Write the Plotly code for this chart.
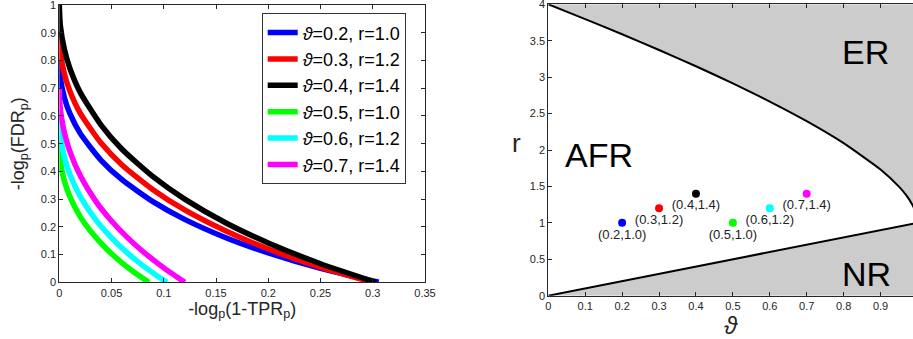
import plotly.graph_objects as go

# ---------------- Left panel data ----------------
series_names = ["<i>ϑ</i>=0.2, r=1.0", "<i>ϑ</i>=0.3, r=1.2", "<i>ϑ</i>=0.4, r=1.4",
                "<i>ϑ</i>=0.5, r=1.0", "<i>ϑ</i>=0.6, r=1.2", "<i>ϑ</i>=0.7, r=1.4"]
series_colors = ["#0000ff", "#ff0000", "#000000", "#00ff00", "#00ffff", "#ff00ff"]

x_blue = [0, 0.001, 0.005, 0.01, 0.02, 0.04, 0.06, 0.09, 0.12, 0.16, 0.2, 0.25, 0.3056]
y_blue = [0.8, 0.738, 0.664, 0.61, 0.537, 0.44, 0.370, 0.29, 0.227, 0.16, 0.106, 0.05, 0.0]
x_red = [0, 0.001, 0.005, 0.01, 0.02, 0.04, 0.06, 0.09, 0.12, 0.16, 0.2, 0.25, 0.300]
y_red = [0.9, 0.832, 0.750, 0.691, 0.610, 0.502, 0.423, 0.333, 0.261, 0.184, 0.120, 0.054, 0.0]
x_black = [0, 0.001, 0.005, 0.01, 0.02, 0.04, 0.06, 0.09, 0.12, 0.16, 0.2, 0.25, 0.303]
y_black = [1.0, 0.926, 0.838, 0.773, 0.685, 0.567, 0.480, 0.380, 0.300, 0.213, 0.142, 0.067, 0.0]
x_green = [0, 0.0005, 0.002, 0.005, 0.01, 0.02, 0.03, 0.045, 0.06, 0.075, 0.0858]
y_green = [0.5, 0.456, 0.413, 0.364, 0.31, 0.237, 0.184, 0.121, 0.070, 0.027, 0.0]
x_cyan = [0, 0.0005, 0.002, 0.005, 0.01, 0.02, 0.035, 0.05, 0.065, 0.08, 0.09, 0.1029]
y_cyan = [0.6, 0.552, 0.504, 0.450, 0.391, 0.310, 0.225, 0.160, 0.106, 0.060, 0.033, 0.0]
x_magenta = [0, 0.0005, 0.002, 0.005, 0.01, 0.02, 0.035, 0.05, 0.065, 0.08, 0.1, 0.1201]
y_magenta = [0.7, 0.648, 0.596, 0.538, 0.473, 0.385, 0.292, 0.221, 0.162, 0.111, 0.052, 0.0]

left_x = [x_blue, x_red, x_black, x_green, x_cyan, x_magenta]
left_y = [y_blue, y_red, y_black, y_green, y_cyan, y_magenta]

# ---------------- Right panel data ----------------
theta_pts = [0.2, 0.3, 0.4, 0.5, 0.6, 0.7]
r_pts = [1.0, 1.2, 1.4, 1.0, 1.2, 1.4]
pt_labels = ["(0.2,1.0)", "(0.3,1.2)", "(0.4,1.4)", "(0.5,1.0)", "(0.6,1.2)", "(0.7,1.4)"]

er_theta = [0, 0.1, 0.2, 0.3, 0.4, 0.5, 0.6, 0.7, 0.8, 0.9, 0.95, 0.97, 0.985, 0.99, 1.0]
er_r = [4.0, 3.797, 3.589, 3.373, 3.150, 2.914, 2.665, 2.396, 2.094, 1.732, 1.497, 1.376, 1.260, 1.21, 1.0]
nr_theta = [0, 1.0]
nr_r = [0, 1.0]

region_names = ["ER", "AFR", "NR"]
region_theta = [0.86, 0.136, 0.863]
region_r = [3.34, 1.93, 0.30]

R_MAX = 4
FILL = "#cccccc"
AX = "#262626"
FONT = "Liberation Sans, Arial, Helvetica, DejaVu Sans, sans-serif"

fig = go.Figure()

# Left curves
for name, col, xs, ys in zip(series_names, series_colors, left_x, left_y):
    fig.add_trace(go.Scatter(x=xs, y=ys, mode="lines", name=name,
                             line=dict(color=col, width=5.5, shape="spline", smoothing=0.6),
                             xaxis="x", yaxis="y"))

# Right: gray regions
fig.add_trace(go.Scatter(x=er_theta + [er_theta[-1], er_theta[0]],
                         y=er_r + [R_MAX, R_MAX],
                         fill="toself", fillcolor=FILL, mode="none",
                         showlegend=False, xaxis="x2", yaxis="y2", hoverinfo="skip"))
fig.add_trace(go.Scatter(x=nr_theta + [nr_theta[-1]],
                         y=nr_r + [nr_r[0]],
                         fill="toself", fillcolor=FILL, mode="none",
                         showlegend=False, xaxis="x2", yaxis="y2", hoverinfo="skip"))
# boundaries
fig.add_trace(go.Scatter(x=er_theta, y=er_r, mode="lines",
                         line=dict(color="black", width=2, shape="spline", smoothing=0.5),
                         showlegend=False, xaxis="x2", yaxis="y2"))
fig.add_trace(go.Scatter(x=nr_theta, y=nr_r, mode="lines",
                         line=dict(color="black", width=2),
                         showlegend=False, xaxis="x2", yaxis="y2"))
# points
fig.add_trace(go.Scatter(x=theta_pts, y=r_pts, mode="markers+text",
                         marker=dict(color=series_colors, size=8),
                         text=pt_labels, textposition="bottom center",
                         textfont=dict(size=13, color="#222222", family=FONT),
                         showlegend=False, cliponaxis=False,
                         xaxis="x2", yaxis="y2"))

annotations = []
for nm, tx, ty in zip(region_names, region_theta, region_r):
    annotations.append(dict(x=tx, y=ty, xref="x2", yref="y2", text=nm, showarrow=False,
                            font=dict(size=34, color="black", family=FONT)))
annotations.append(dict(x=516 / 913, y=1 - 143 / 339, xref="paper", yref="paper", text="r",
                        showarrow=False, font=dict(size=26, color=AX, family=FONT)))

axis_common = dict(showline=True, linecolor=AX, linewidth=1, ticks="inside", ticklen=4,
                   tickcolor=AX, showgrid=False, zeroline=False, automargin=False,
                   ticklabeloverflow="allow",
                   tickfont=dict(size=11, color=AX, family=FONT))

fig.update_layout(
    width=913, height=339,
    margin=dict(l=0, r=0, t=0, b=0, autoexpand=False),
    paper_bgcolor="white", plot_bgcolor="white",
    font=dict(family=FONT, color=AX),
    showlegend=True,
    legend=dict(x=261.7 / 913, y=1 - 13.3 / 339, xanchor="left", yanchor="top",
                bgcolor="white", bordercolor="#333333", borderwidth=1,
                font=dict(size=18, color="black", family=FONT),
                itemwidth=30, tracegroupgap=0),
    xaxis=dict(domain=[59.3 / 913, 425 / 913], range=[0, 0.35], dtick=0.05, tick0=0,
               mirror="ticks", anchor="y",
               title=dict(text="-log<sub>p</sub>(1-TPR<sub>p</sub>)", font=dict(size=18, color=AX),
                          standoff=4),
               **axis_common),
    yaxis=dict(domain=[1 - 282.3 / 339, 1 - 5 / 339], range=[0, 1], dtick=0.1, tick0=0,
               mirror="ticks", anchor="x",
               title=dict(text="-log<sub>p</sub>(FDR<sub>p</sub>)", font=dict(size=18, color=AX),
                          standoff=11),
               **axis_common),
    xaxis2=dict(domain=[548.3 / 913, 1.0], range=[0, 0.988], dtick=0.1, tick0=0,
                mirror="ticks", anchor="y2",
                title=dict(text="<i>ϑ</i>", font=dict(size=24, color=AX), standoff=0),
                **axis_common),
    yaxis2=dict(domain=[1 - 295.7 / 339, 1 - 4.3 / 339], range=[0, 4], dtick=0.5, tick0=0,
                mirror=False, anchor="x2",
                **axis_common),
    annotations=annotations,
)

fig.write_html("out.html", config={"displayModeBar": False},
               post_script="document.body.style.margin='0';")
